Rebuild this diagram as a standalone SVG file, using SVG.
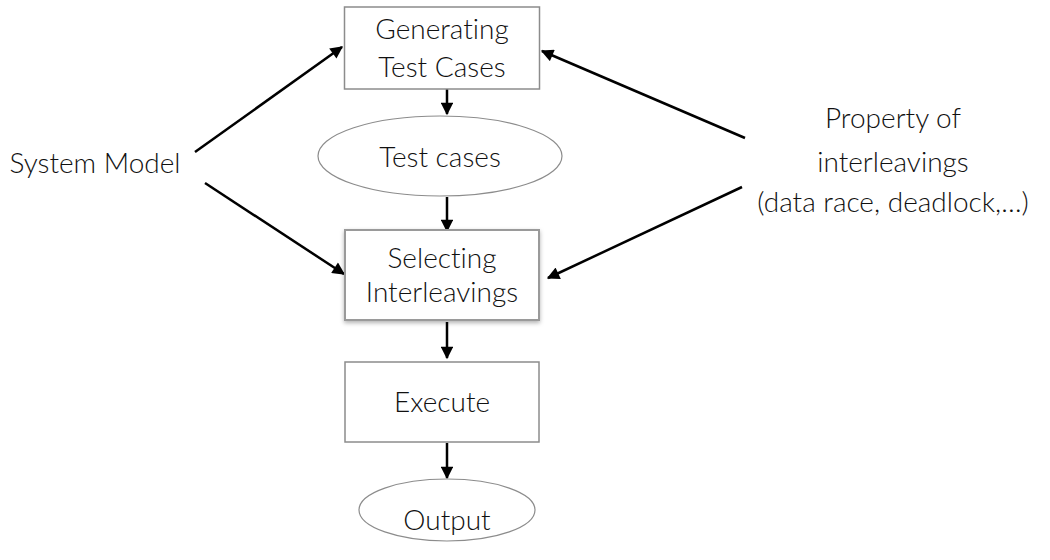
<svg xmlns="http://www.w3.org/2000/svg" width="1050" height="560" viewBox="0 0 1050 560">
  <style>
    .box { fill: #ffffff; stroke: #8c8c8c; stroke-width: 1.5; }
    .oval { fill: #ffffff; stroke: #8c8c8c; stroke-width: 1.2; }
    .lbl { font-family: "Lato", "Open Sans", "Liberation Sans", sans-serif; font-weight: 300; font-size: 28px; fill: #111111; text-anchor: middle; font-variant-ligatures: none; }
    .edge { stroke: #000000; stroke-width: 2.5; fill: none; marker-end: url(#head); }
  </style>
  <defs>
    <marker id="head" viewBox="0 0 10 10" refX="9" refY="5" markerWidth="5.5" markerHeight="5" orient="auto" markerUnits="strokeWidth">
      <path d="M0,0 L10,5 L0,10 Z" fill="#000000"/>
    </marker>
    <filter id="soft" x="-10%" y="-10%" width="120%" height="130%">
      <feDropShadow dx="0" dy="2" stdDeviation="2" flood-color="#000000" flood-opacity="0.3"/>
    </filter>
  </defs>

  <rect width="1050" height="560" fill="#ffffff"/>

  <g id="connectors">
    <line class="edge" x1="195" y1="152" x2="342" y2="47"/>
    <line class="edge" x1="205" y1="183" x2="344" y2="274"/>
    <line class="edge" x1="745" y1="138" x2="542" y2="51"/>
    <line class="edge" x1="742" y1="187" x2="548" y2="278"/>
    <line class="edge" x1="447" y1="89" x2="447" y2="114"/>
    <line class="edge" x1="447" y1="197" x2="447" y2="231"/>
    <line class="edge" x1="447" y1="322" x2="447" y2="358"/>
    <line class="edge" x1="447" y1="443" x2="447" y2="478"/>
  </g>

  <g id="generating">
    <rect class="box" x="344.5" y="7" width="195" height="82"/>
    <text class="lbl" x="442" y="39">Generating</text>
    <text class="lbl" x="442" y="77">Test Cases</text>
  </g>

  <g id="testcases">
    <ellipse class="oval" cx="440" cy="156" rx="122" ry="40"/>
    <text class="lbl" x="440" y="167">Test cases</text>
  </g>

  <g id="selecting">
    <rect class="box" x="345" y="230" width="194" height="90" filter="url(#soft)" style="stroke:#9a9a9a;stroke-width:2"/>
    <text class="lbl" x="442" y="268">Selecting</text>
    <text class="lbl" x="442" y="302">Interleavings</text>
  </g>

  <g id="execute">
    <rect class="box" x="345" y="362" width="194" height="80"/>
    <text class="lbl" x="442" y="412">Execute</text>
  </g>

  <g id="output">
    <ellipse class="oval" cx="447" cy="510" rx="88" ry="31"/>
    <text class="lbl" x="447" y="530">Output</text>
  </g>

  <g id="systemmodel">
    <text class="lbl" x="95" y="173">System Model</text>
  </g>

  <g id="property">
    <text class="lbl" x="893" y="128">Property of</text>
    <text class="lbl" x="893" y="172">interleavings</text>
    <text class="lbl" x="893" y="212">(data race, deadlock,…)</text>
  </g>
</svg>
